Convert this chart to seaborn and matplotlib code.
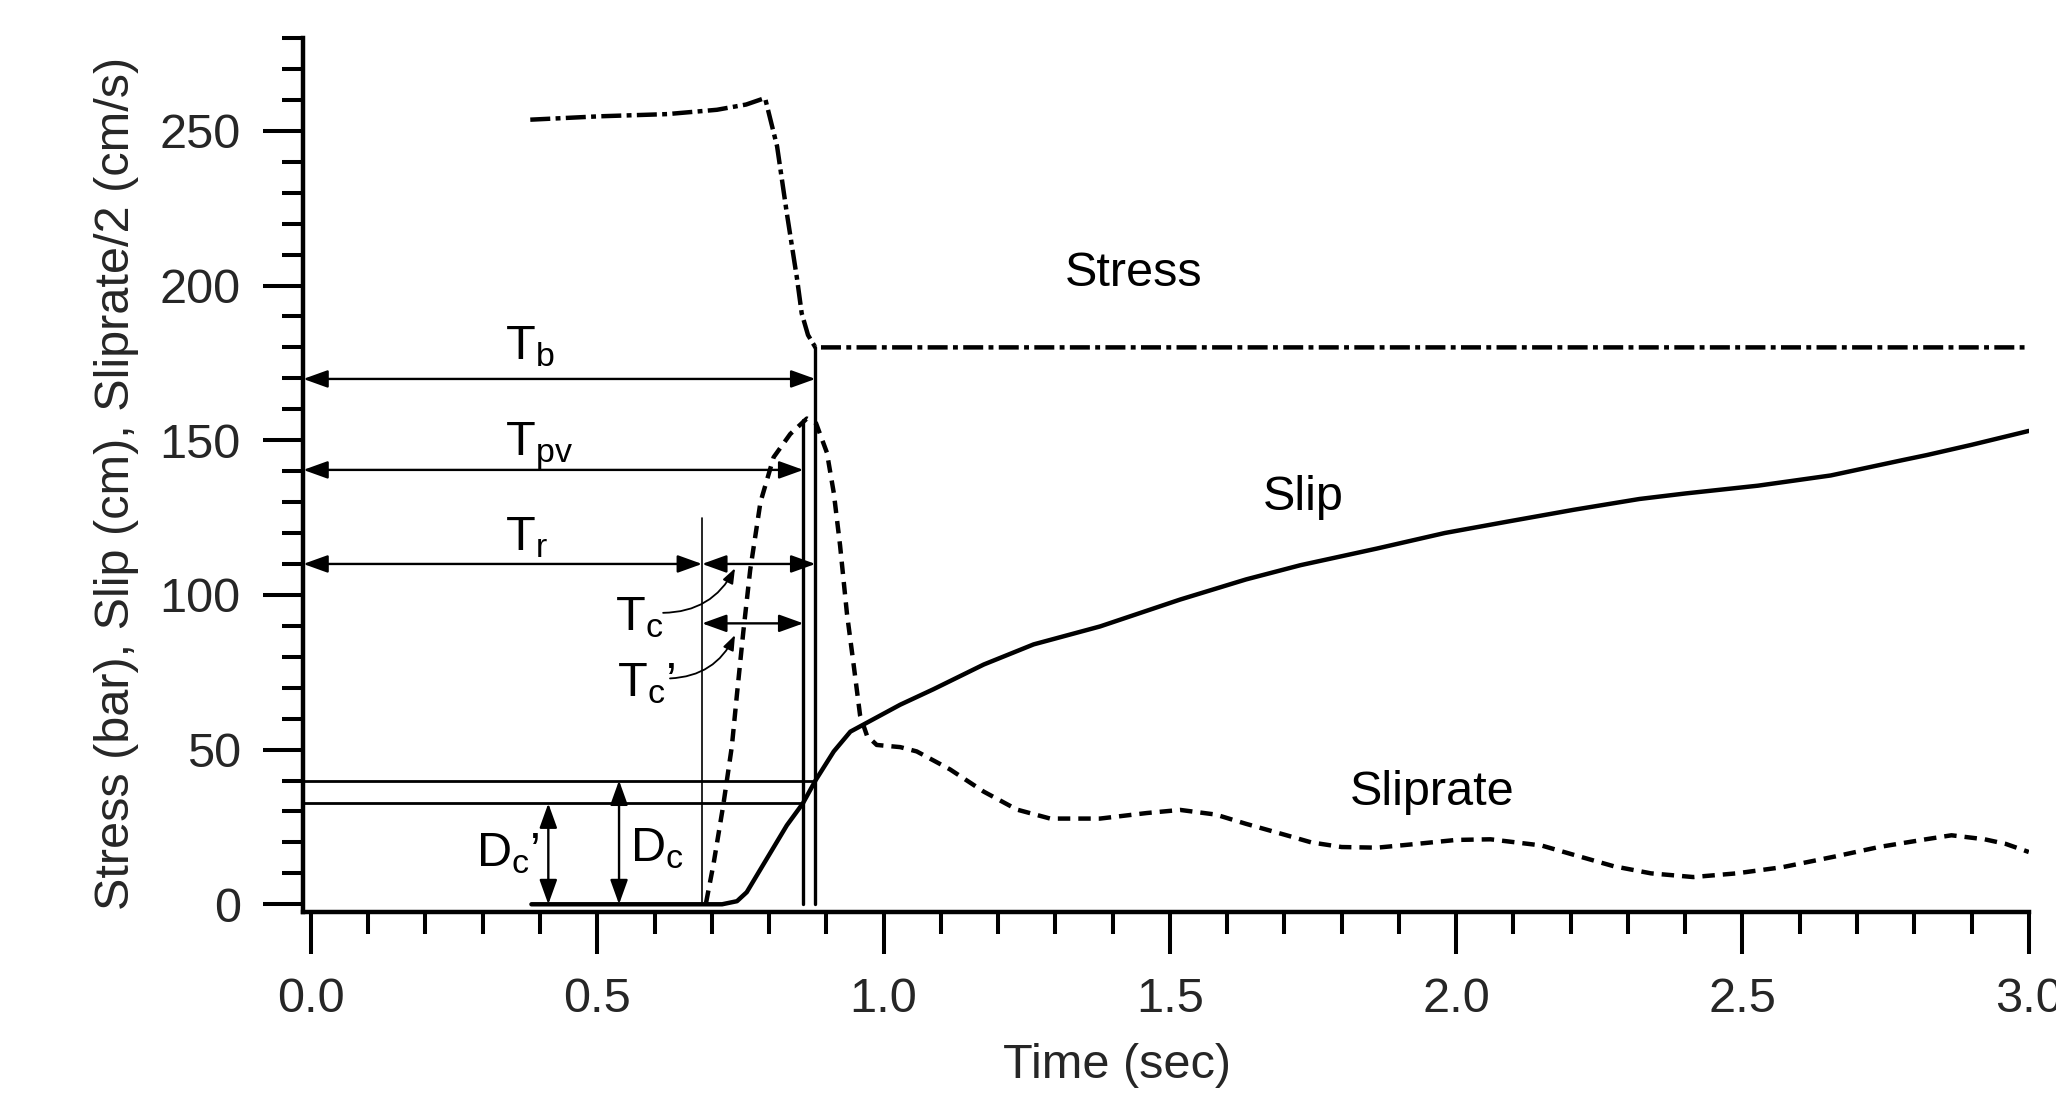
import numpy as np
import pandas as pd
import matplotlib
matplotlib.use("Agg")
import matplotlib.pyplot as plt
import seaborn as sns
from matplotlib.ticker import MultipleLocator, FormatStrFormatter

# ---------------- data ----------------
stress_t = [0.383, 0.505, 0.622, 0.709, 0.760, 0.793, 0.814, 0.831, 0.849,
            0.857, 0.868, 0.876, 0.881, 3.000]
stress_v = [253.6, 254.7, 255.4, 256.8, 258.5, 260.6, 245.0, 223.4, 202.0,
            191.0, 184.0, 181.5, 180.0, 180.0]

slip_t = [0.385, 0.718, 0.744, 0.761, 0.796, 0.831, 0.859, 0.881, 0.913,
          0.942, 0.971, 1.029, 1.087, 1.175, 1.262, 1.378, 1.518, 1.633,
          1.728, 1.862, 1.980, 2.090, 2.205, 2.320, 2.401, 2.527, 2.654,
          2.778, 2.822, 2.900, 3.000]
slip_v = [0.0, 0.0, 1.0, 3.9, 14.7, 25.5, 32.6, 40.0, 49.4,
          55.8, 58.7, 64.5, 69.5, 77.5, 84.0, 89.8, 98.5, 105.0,
          109.6, 115.0, 120.0, 123.7, 127.5, 131.0, 132.8, 135.3, 138.6,
          143.5, 145.2, 148.5, 153.0]

rate_t = [0.690, 0.703, 0.720, 0.735, 0.744, 0.755, 0.767, 0.785, 0.808,
          0.837, 0.866, 0.882, 0.901, 0.913, 0.924, 0.936, 0.948, 0.959,
          0.971, 0.988, 1.029, 1.058, 1.116, 1.175, 1.233, 1.291, 1.378,
          1.460, 1.518, 1.580, 1.633, 1.700, 1.747, 1.800, 1.862, 1.930,
          2.000, 2.060, 2.149, 2.205, 2.275, 2.340, 2.414, 2.490, 2.570,
          2.663, 2.738, 2.820, 2.865, 2.923, 2.960, 3.000]
rate_v = [0.5, 13.0, 32.0, 51.0, 68.0, 88.0, 108.0, 130.0, 144.5,
          152.0, 157.0, 155.5, 146.0, 133.0, 116.0, 94.0, 77.0, 61.0,
          54.5, 51.5, 50.8, 49.4, 43.6, 36.4, 30.6, 27.7, 27.7,
          29.5, 30.5, 29.0, 26.0, 22.5, 20.0, 18.5, 18.3, 19.5,
          20.8, 21.0, 19.0, 16.0, 12.3, 10.0, 8.8, 10.0, 12.0,
          15.5, 18.5, 21.0, 22.3, 21.0, 19.5, 16.9]

# characteristic times (s) and slips (cm)
T_r = 0.683
T_pv = 0.860
T_b = 0.881
Dc = 40.0
Dc_prime = 32.6
stress_final = 180.0
peak_rate = 156.5
Tr_line_top = 125.0

# arrow heights (y values)
y_Tb, y_Tpv, y_Tr, y_Tcp = 169.8, 140.4, 110.0, 90.8
x_Dcp, x_Dc = 0.4145, 0.538

xlim = (-0.0134, 3.0)
ylim = (-2.4, 280)

# ---------------- style ----------------
sns.set_style("ticks")
plt.rcParams['font.family'] = ['Liberation Sans', 'DejaVu Sans']
plt.rcParams['mathtext.fontset'] = 'custom'
plt.rcParams['mathtext.rm'] = 'Liberation Sans'
plt.rcParams['mathtext.it'] = 'Liberation Sans:italic'
plt.rcParams['mathtext.bf'] = 'Liberation Sans:bold'

FS = 35
LW = 3.2

fig = plt.figure(figsize=(20.56, 11), dpi=100)
ax = fig.add_axes([0.14752, 0.17118, 0.83925, 0.79427])

df_stress = pd.DataFrame({"t": stress_t, "v": stress_v})
df_slip = pd.DataFrame({"t": slip_t, "v": slip_v})
df_rate = pd.DataFrame({"t": rate_t, "v": rate_v})

sns.lineplot(data=df_stress, x="t", y="v", ax=ax, color="black", lw=LW,
             linestyle=(0, (4.5, 1.2, 1.1, 1.2)), estimator=None, sort=False)
sns.lineplot(data=df_slip, x="t", y="v", ax=ax, color="black", lw=LW,
             estimator=None, sort=False)
sns.lineplot(data=df_rate, x="t", y="v", ax=ax, color="black", lw=LW,
             linestyle=(0, (2.8, 1.8)), estimator=None, sort=False)

# vertical marker lines
ax.plot([T_b, T_b], [0, stress_final], color="black", lw=2.4)
ax.plot([T_pv, T_pv], [0, peak_rate], color="black", lw=2.4)
ax.plot([T_r, T_r], [0, Tr_line_top], color="black", lw=1.2)

# horizontal Dc lines
ax.plot([xlim[0], T_b], [Dc, Dc], color="black", lw=2.0)
ax.plot([xlim[0], T_pv], [Dc_prime, Dc_prime], color="black", lw=2.0)


def darrow(p0, p1, lw=1.7):
    ax.annotate("", xy=p1, xytext=p0,
                arrowprops=dict(arrowstyle="<|-|>,head_length=0.75,head_width=0.27",
                                mutation_scale=20, color="black", lw=lw,
                                shrinkA=0, shrinkB=0))


darrow((xlim[0], y_Tb), (T_b, y_Tb))
darrow((xlim[0], y_Tpv), (T_pv, y_Tpv))
darrow((xlim[0], y_Tr), (T_r, y_Tr))
darrow((T_r, y_Tr), (T_b, y_Tr))
darrow((T_r, y_Tcp), (T_pv, y_Tcp))
darrow((x_Dcp, 0), (x_Dcp, Dc_prime))
darrow((x_Dc, 0), (x_Dc, Dc))

# curved pointers for Tc and Tc'
for p0, p1 in [((0.615, 94.2), (0.7405, 108.6)), ((0.627, 73.0), (0.7405, 87.0))]:
    ax.annotate("", xy=p1, xytext=p0,
                arrowprops=dict(arrowstyle="-|>,head_length=0.45,head_width=0.17",
                                mutation_scale=20, color="black", lw=1.3,
                                shrinkA=0, shrinkB=0,
                                connectionstyle="arc3,rad=0.3"))

# labels
txt = dict(fontsize=FS, color="black", ha="left", va="baseline")
ax.text(0.339, 176.1, r"T$_{\mathrm{b}}$", **txt)
ax.text(0.339, 145.2, r"T$_{\mathrm{pv}}$", **txt)
ax.text(0.339, 114.5, r"T$_{\mathrm{r}}$", **txt)
ax.text(0.531, 88.7, r"T$_{\mathrm{c}}$", **txt)
ax.text(0.534, 67.1, r"T$_{\mathrm{c}}$’", **txt)
ax.text(0.289, 12.2, r"D$_{\mathrm{c}}$’", **txt)
ax.text(0.557, 13.8, r"D$_{\mathrm{c}}$", **txt)

ctr = dict(fontsize=FS, color="black", ha="center", va="baseline")
ax.text(1.436, 200.0, "Stress", **ctr)
ax.text(1.733, 127.5, "Slip", **ctr)
ax.text(1.9586, 32.0, "Sliprate", **ctr)

# axes
ax.set_xlim(*xlim)
ax.set_ylim(*ylim)
ax.xaxis.set_major_locator(MultipleLocator(0.5))
ax.xaxis.set_minor_locator(MultipleLocator(0.1))
ax.xaxis.set_major_formatter(FormatStrFormatter("%.1f"))
ax.yaxis.set_major_locator(MultipleLocator(50))
ax.yaxis.set_minor_locator(MultipleLocator(10))

for s in ["top", "right"]:
    ax.spines[s].set_visible(False)
for s in ["left", "bottom"]:
    ax.spines[s].set_linewidth(3.2)
    ax.spines[s].set_color("black")

ax.tick_params(axis="y", which="major", length=29, width=2.9, pad=16,
               labelsize=FS, direction="out", color="black")
ax.tick_params(axis="y", which="minor", length=15, width=2.9, direction="out",
               color="black")
ax.tick_params(axis="x", which="major", length=30, width=2.9, pad=17,
               labelsize=FS, direction="out", color="black")
ax.tick_params(axis="x", which="minor", length=16, width=2.9, direction="out",
               color="black")

ax.set_xlabel("Time (sec)", fontsize=FS)
ax.xaxis.label.set_verticalalignment("baseline")
ax.xaxis.set_label_coords(0.4716, -0.190)
ax.set_ylabel("Stress (bar), Slip (cm), Sliprate/2 (cm/s)", fontsize=FS)
ax.yaxis.label.set_verticalalignment("baseline")
ax.yaxis.set_label_coords(-0.101, 0.49)

fig.savefig("out.png", dpi=100, facecolor="white")
